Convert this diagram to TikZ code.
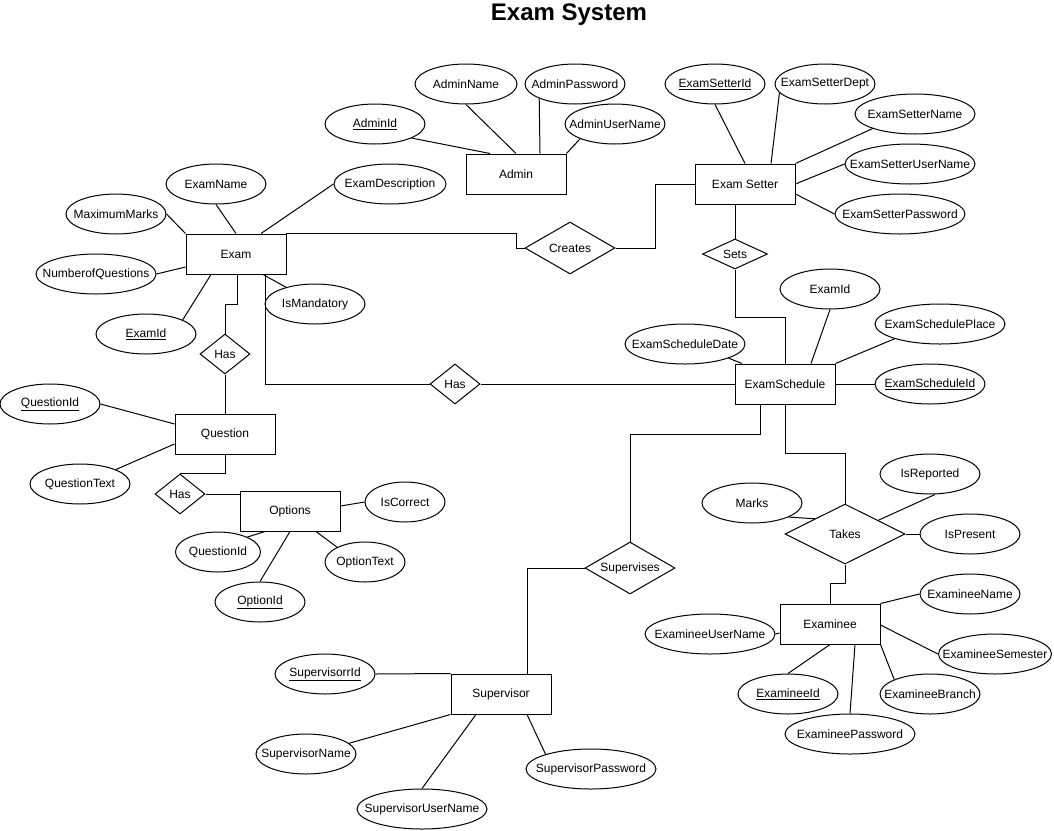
\documentclass[tikz,border=0pt]{standalone}
\usepackage{fontspec}
\setmainfont{Liberation Sans}
\usetikzlibrary{shapes.geometric,calc}
\newcommand{\mb}[1]{\makebox[0pt]{#1}}
\begin{document}
\begin{tikzpicture}[x=1pt,y=-1pt,line width=1pt,font=\fontsize{12}{14}\selectfont,
  ent/.style={draw,rectangle,minimum width=100pt,minimum height=40pt,inner sep=0pt},
  attr/.style={draw,ellipse,minimum width=100pt,minimum height=40pt,inner sep=0pt},
  rel/.style={draw,diamond,minimum width=50pt,minimum height=40pt,inner sep=0pt},
  conn/.style={draw,line width=1pt}]
\fill[white] (0,0) rectangle (1054,830);
\useasboundingbox (0,0) rectangle (1054,830);

\node[font=\fontsize{24}{28}\selectfont\bfseries] (title) at (569,15) {Exam System};

% entities
\node[ent] (exam) at (236,254) {\mb{Exam}};
\node[ent] (admin) at (516,174) {\mb{Admin}};
\node[ent] (esetter) at (745,184) {\mb{Exam Setter}};
\node[ent] (esched) at (785,384) {\mb{ExamSchedule}};
\node[ent] (question) at (225,434) {\mb{Question}};
\node[ent] (options) at (290,511) {\mb{Options}};
\node[ent] (examinee) at (830,624) {\mb{Examinee}};
\node[ent] (supervisor) at (501,694) {\mb{Supervisor}};

% relationships
\node[rel] (has1) at (225,354) {\mb{Has}};
\node[rel] (has2) at (455,384) {\mb{Has}};
\node[rel,minimum width=90pt,minimum height=52pt] (creates) at (570,248) {\mb{Creates}};
\node[rel,minimum width=65pt,minimum height=30pt] (sets) at (735,254) {\mb{Sets}};
\node[rel] (has3) at (180,494) {\mb{Has}};
\node[rel,minimum width=120pt,minimum height=60pt] (takes) at (845,534) {\mb{Takes}};
\node[rel,minimum width=90pt,minimum height=52pt] (supervises) at (630,568) {\mb{Supervises}};

% attributes
\node[attr] (examname) at (216,184) {\mb{ExamName}};
\node[attr] (maxmarks) at (116,214) {\mb{MaximumMarks}};
\node[attr,minimum width=120pt] (noq) at (96,274) {\mb{NumberofQuestions}};
\node[attr] (examid) at (146,334) {\mb{\underline{ExamId}}};
\node[attr] (ismand) at (315,304) {\mb{IsMandatory}};
\node[attr,minimum width=112pt] (examdesc) at (390,184) {\mb{ExamDescription}};

\node[attr,minimum width=102pt] (adminname) at (466,84) {\mb{AdminName}};
\node[attr] (adminpw) at (575,84) {\mb{AdminPassword}};
\node[attr] (adminid) at (375,124) {\mb{\underline{AdminId}}};
\node[attr] (aun) at (615,124) {\mb{AdminUserName}};

\node[attr] (esid) at (715,84) {\mb{\underline{ExamSetterId}}};
\node[attr] (esdept) at (825,84) {\mb{ExamSetterDept}};
\node[attr,minimum width=120pt] (esname) at (915,114) {\mb{ExamSetterName}};
\node[attr,minimum width=130pt] (esuname) at (910,164) {\mb{ExamSetterUserName}};
\node[attr,minimum width=130pt] (espw) at (900,214) {\mb{ExamSetterPassword}};

\node[attr] (examid2) at (830,289) {\mb{ExamId}};
\node[attr,minimum width=130pt] (esplace) at (940,324) {\mb{ExamSchedulePlace}};
\node[attr,minimum width=120pt] (esdate) at (685,344) {\mb{ExamScheduleDate}};
\node[attr,minimum width=110pt] (eschid) at (930,384) {\mb{\underline{ExamScheduleId}}};

\node[attr] (isrep) at (930,474) {\mb{IsReported}};
\node[attr] (marks) at (752,503) {\mb{Marks}};
\node[attr] (ispres) at (970,534) {\mb{IsPresent}};

\node[attr] (qid) at (50,404) {\mb{\underline{QuestionId}}};
\node[attr] (qtext) at (80,484) {\mb{QuestionText}};
\node[attr,minimum width=80pt] (iscorrect) at (405,502) {\mb{IsCorrect}};
\node[attr,minimum width=85pt] (qid2) at (218,552) {\mb{QuestionId}};
\node[attr,minimum width=80pt] (opttext) at (365,562) {\mb{OptionText}};
\node[attr,minimum width=90pt] (optid) at (260,602) {\mb{\underline{OptionId}}};

\node[attr] (ename) at (970,594) {\mb{ExamineeName}};
\node[attr,minimum width=130pt] (euname) at (710,634) {\mb{ExamineeUserName}};
\node[attr,minimum width=113pt] (esem) at (995,654) {\mb{ExamineeSemester}};
\node[attr] (eid) at (788,694) {\mb{\underline{ExamineeId}}};
\node[attr] (ebranch) at (930,694) {\mb{ExamineeBranch}};
\node[attr,minimum width=130pt] (epw) at (850,734) {\mb{ExamineePassword}};

\node[attr] (supid) at (325,674) {\mb{\underline{SupervisorrId}}};
\node[attr] (supname) at (306,754) {\mb{SupervisorName}};
\node[attr,minimum width=130pt] (supuname) at (422,809) {\mb{SupervisorUserName}};
\node[attr,minimum width=130pt] (suppw) at (591,769) {\mb{SupervisorPassword}};

% Exam connectors
\draw[conn] (examname.south) -- (exam.north);
\draw[conn] (maxmarks.east) -- (exam.north west);
\draw[conn] (noq.east) -- ([yshift=-13pt]exam.west);
\draw[conn] (examid.21) -- ([xshift=-25pt]exam.south);
\draw[conn] (ismand.150) -- ([xshift=27pt]exam.south);
\draw[conn] ([xshift=25pt]exam.north) -- (examdesc.west);
\draw[conn] ([xshift=1pt]exam.south) -- ++(0,30) -| (has1.north);
\draw[conn] ([xshift=29pt]exam.south) |- (has2.west);
\draw[conn] ([yshift=-10pt]exam.north east) -- (exam.north east) -- ++(230,0) |- (creates.west);
\draw[conn] (creates.east) -- ++(40,0) |- (esetter.west);

% Admin connectors
\draw[conn] (adminid.-21) -- ([xshift=-26pt]admin.north);
\draw[conn] (adminname.south) -- (admin.north);
\draw[conn] (adminpw.-158) -- ([xshift=24pt]admin.north);
\draw[conn] (aun.-157) -- (admin.north east);

% Exam Setter connectors
\draw[conn] (esid.south) -- (esetter.north);
\draw[conn] (esdept.-169) -- ([xshift=26pt]esetter.north);
\draw[conn] (esname.-161) -- (esetter.north east);
\draw[conn] (esuname.west) -- (esetter.east);
\draw[conn] (espw.west) -- ([yshift=-10pt]esetter.east);
\draw[conn] ([xshift=-10pt]esetter.south) -- (sets.north);
\draw[conn] (sets.south) -- ++(0,48) -| (esched.north);

% ExamSchedule connectors
\draw[conn] (examid2.south) -- ([xshift=26pt]esched.north);
\draw[conn] (esplace.-162) -- (esched.north east);
\draw[conn] (esdate.-18) -- ([xshift=-43pt]esched.north);
\draw[conn] (esched.east) -- (eschid.west);
\draw[conn] (has2.east) -- (esched.west);
\draw[conn] ([xshift=-25pt]esched.south) -- ++(0,30) -| (supervises.north);
\draw[conn] (esched.south) -- ++(0,49) -| (takes.north);

% Takes connectors
\draw[conn] (marks.-21) -- ($(takes.west)!0.5!(takes.north)$);
\draw[conn] ([xshift=5pt]isrep.south) -- ($(takes.north)!0.55!(takes.east)$);
\draw[conn] (takes.east) -- (ispres.west);
\draw[conn] (takes.south) -- ++(0,19) -| (examinee.north);

% Examinee connectors
\draw[conn] (ename.west) -- (examinee.north east);
\draw[conn] (euname.east) -- ([yshift=-9pt]examinee.west);
\draw[conn] (esem.west) -- ([yshift=-1pt]examinee.east);
\draw[conn] (eid.north) -- (examinee.south);
\draw[conn] (ebranch.158) -- (examinee.south east);
\draw[conn] (epw.north) -- ([xshift=25pt]examinee.south);

% Supervisor connectors
\draw[conn] (supervises.west) -| ([xshift=26pt]supervisor.north);
\draw[conn] (supid.east) -- (supervisor.north west);
\draw[conn] (supname.14) -- (supervisor.south west);
\draw[conn] (supuname.north) -- ([xshift=-25pt]supervisor.south);
\draw[conn] (suppw.162) -- ([xshift=26pt]supervisor.south);

% Question connectors
\draw[conn] (has1.south) -- (question.north);
\draw[conn] (qid.east) -- ([yshift=10pt]question.west);
\draw[conn] (qtext.22) -- ([yshift=-10pt]question.west);
\draw[conn] (question.south) |- (has3.north);
\draw[conn] (has3.east) -- ([yshift=17pt]options.west);

% Options connectors
\draw[conn] (iscorrect.west) -- ([yshift=5pt]options.east);
\draw[conn] (qid2.27) -- ([xshift=-25pt]options.south);
\draw[conn] (optid.north) -- (options.south);
\draw[conn] (opttext.152) -- ([xshift=26pt]options.south);
\end{tikzpicture}
\end{document}
